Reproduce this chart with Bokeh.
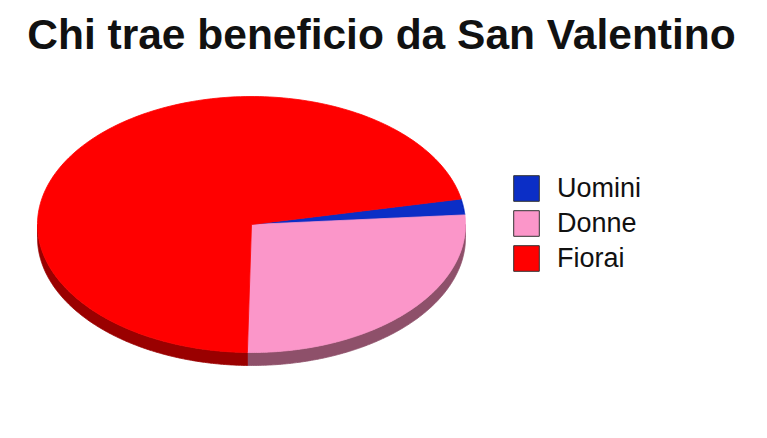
import numpy as np
from bokeh.plotting import figure
from bokeh.models import Range1d, ColumnDataSource, Legend, LegendItem, Label
from bokeh.embed import file_html
from bokeh.resources import INLINE

# ---- data ----
title_text = "Chi trae beneficio da San Valentino"
categories = ["Uomini", "Donne", "Fiorai"]
values = [2, 26.5, 71.5]
top_colors = ["#0b2ec6", "#fb96c9", "#ff0000"]
side_colors = ["#061c80", "#8e506a", "#9a0000"]

# ---- layout / style ----
W, H = 751, 422
CX, CY = 251, 198          # pie centre in screen px (from left / bottom)
RX, RY = 214, 128          # ellipse radii in px
DEPTH = 13 / RY            # pie thickness in data units
START_DEG = 11.5           # slices run clockwise from here

p = figure(width=W, height=H, output_backend="svg", toolbar_location=None,
           x_range=Range1d(-CX / RX, (W - CX) / RX),
           y_range=Range1d(-CY / RY, (H - CY) / RY),
           x_axis_type=None, y_axis_type=None, min_border=0)
p.grid.visible = False
p.outline_line_color = None
p.background_fill_color = "white"


def arc(a_from, a_to, n=200, dy=0.0):
    t = np.radians(np.linspace(a_from, a_to, n))
    return list(np.cos(t)), list(np.sin(t) + dy)


total = float(sum(values))
bounds = []
acc = 0.0
for v in values:
    a0 = START_DEG - acc / total * 360.0
    acc += v
    a1 = START_DEG - acc / total * 360.0
    bounds.append((a1, a0))  # lo, hi

# legend swatch renderers (degenerate shapes hidden under the pie centre)
items = []
for name, col in zip(categories, top_colors):
    src = ColumnDataSource(dict(xs=[[0.0, 0.0, 0.0]], ys=[[0.0, 0.0, 0.0]]))
    r = p.patches("xs", "ys", source=src, fill_color=col, line_color="#333333", line_width=1)
    items.append(LegendItem(label=name, renderers=[r]))

# side walls (front half only: angles in [-180, 0] modulo 360)
for (lo, hi), col in zip(bounds, side_colors):
    for k in (-2, -1, 0, 1):
        s_lo, s_hi = -180 + 360 * k, 0 + 360 * k
        a, b = max(lo, s_lo), min(hi, s_hi)
        if b - a > 0.01:
            tx, ty = arc(a, b)
            bx, by = arc(b, a, dy=-DEPTH)
            p.patch(tx + bx, ty + by, fill_color=col, line_color=col, line_width=0.8)

# top surfaces
for (lo, hi), col in zip(bounds, top_colors):
    ax, ay = arc(hi, lo)
    xs = [0.0] + ax + [0.0]
    ys = [0.0] + ay + [0.0]
    p.patch(xs, ys, fill_color=col, line_color=col, line_width=0.8)

legend = Legend(items=items, location=(510, 148), glyph_width=32, glyph_height=32,
                spacing=3, label_standoff=15, padding=0, margin=0,
                border_line_alpha=0, background_fill_alpha=0,
                label_text_font="Liberation Sans", label_text_font_size="27px",
                label_height=32, label_text_color="#111111")
p.add_layout(legend)

p.add_layout(Label(x=381, y=H - 34, x_units="screen", y_units="screen",
                   text=title_text, text_align="center", text_baseline="alphabetic",
                   text_font="Liberation Sans", text_font_style="bold",
                   text_font_size="42.5px", text_color="#111111"))

open("out.html", "w").write(file_html(p, INLINE))
